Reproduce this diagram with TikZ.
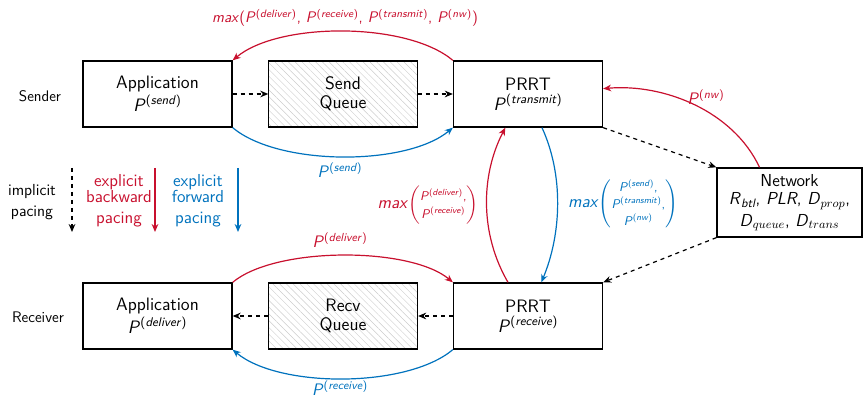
\documentclass[tikz,border=0pt]{standalone}
\usepackage{amsmath}
\usetikzlibrary{arrows.meta,patterns.meta}
\definecolor{cred}{RGB}{200,16,46}
\definecolor{cblue}{RGB}{0,114,189}
\newcommand\Pv[1]{\textit{P}\textsuperscript{(\textit{#1})}}
\newcommand\fs[2]{\fontsize{#1}{#2}\selectfont}
\begin{document}
\begin{tikzpicture}[x=0.75pt,y=0.75pt,font=\sffamily\fs{11.5}{13},
  box/.style={draw,line width=1pt,minimum width=111.75pt,minimum height=49.5pt,align=center,inner sep=1pt,font=\sffamily\fs{13.5}{13.5}},
  hbox/.style={box,pattern={Lines[angle=-45,distance=3.6pt,line width=0.35pt]},pattern color=black!20},
  dsh/.style={dashed,line width=0.9pt,-{Stealth[length=6pt,width=5pt]}},
  rarr/.style={cred,line width=0.9pt,-{Stealth[length=6pt,width=5pt]}},
  barr/.style={cblue,line width=0.9pt,-{Stealth[length=6pt,width=5pt]}},
  lbl/.style={align=center,inner sep=1pt}]
\useasboundingbox (0,0) rectangle (864,-398);
% sender row
\node[box] (sapp) at (157.5,-94) {Application\\[1.5pt]\Pv{send}};
\node[hbox] (sq) at (343,-94) {Send\\[1pt]Queue};
\node[box] (sprrt) at (528,-94) {PRRT\\[1.5pt]\Pv{transmit}};
% receiver row
\node[box] (rapp) at (157.5,-316) {Application\\[1.5pt]\Pv{deliver}};
\node[hbox] (rq) at (343,-316) {Recv\\[1pt]Queue};
\node[box] (rprrt) at (528,-316) {PRRT\\[1.5pt]\Pv{receive}};
% network
\node[box,minimum width=108.75pt,minimum height=51.75pt,font=\sffamily\fs{13}{16}] (net) at (789.5,-202.5)
  {Network\\[-2pt]\textit{R}$_{\text{\itshape btl}}$, \textit{PLR}, \textit{D}$_{prop}$,\\\textit{D}$_{queue}$, \textit{D}$_{trans}$};
% side labels
\node (lsend) at (40,-96) {Sender};
\node (lrecv) at (38,-317) {Receiver};
% dashed data flow
\draw[dsh] (sapp) -- (sq);
\draw[dsh] (sq) -- (sprrt);
\draw[dsh] (sprrt.south east) -- (net.north west);
\draw[dsh] (net.south west) -- (rprrt.north east);
\draw[dsh] (rprrt) -- (rq);
\draw[dsh] (rq) -- (rapp);
% pacing curves
\draw[rarr] (sprrt.north west) to[out=140,in=40,looseness=0.7] (sapp.north east);
\draw[barr] (sapp.south east) to[out=-40,in=-140,looseness=0.7] (sprrt.south west);
\draw[rarr] (rapp.north east) to[out=40,in=140,looseness=0.65] (rprrt.north west);
\draw[barr] (rprrt.south west) to[out=-140,in=-40,looseness=0.7] (rapp.south east);
\draw[rarr] ([xshift=-15pt]rprrt.north) .. controls +(-28,48) and +(-25,-48) .. ([xshift=-17pt]sprrt.south);
\draw[barr] ([xshift=10.5pt]sprrt.south) .. controls +(22,-48) and +(20,48) .. ([xshift=10pt]rprrt.north);
\draw[rarr] ([xshift=-22.5pt]net.north) to[out=115,in=5,looseness=0.9] ([yshift=4pt]sprrt.east);
% labels
\node[lbl,cred] (l1) at (345,-18) {\textit{max}(\Pv{deliver}, \Pv{receive}, \Pv{transmit}, \Pv{nw})};
\node[lbl,cred,font=\sffamily\fs{12.5}{14}] (l2) at (706,-97) {\Pv{nw}};
\node[lbl,cblue,font=\sffamily\fs{12.5}{14}] (l3) at (340,-170) {\Pv{send}};
\node[lbl,cred,font=\sffamily\fs{13}{14}] (l4) at (428,-205) {\textit{max}$\left(\mbox{\fs{9.5}{14}\begin{tabular}{@{}c@{}}\Pv{deliver},\\\Pv{receive}\end{tabular}}\right)$};
\node[lbl,cblue,font=\sffamily\fs{13}{14}] (l5) at (623,-205) {\textit{max}$\left(\mbox{\fs{9.5}{12.5}\begin{tabular}{@{}c@{}}\Pv{send},\\\Pv{transmit},\\\Pv{nw}\end{tabular}}\right)$};
\node[lbl,cred,font=\sffamily\fs{12.5}{14}] (l6) at (340,-240) {\Pv{deliver}};
\node[lbl,cblue,font=\sffamily\fs{12.5}{14}] (l7) at (340,-388) {\Pv{receive}};
% legend
\coordinate (k1a) at (72,-168); \coordinate (k1b) at (72,-232);
\coordinate (k2a) at (155,-168); \coordinate (k2b) at (155,-232);
\coordinate (k3a) at (238,-168); \coordinate (k3b) at (238,-232);
\draw[dsh] (k1a) -- (k1b);
\draw[rarr] (k2a) -- (k2b);
\draw[barr] (k3a) -- (k3b);
\node[lbl,font=\sffamily\fs{12}{13}] (t1) at (32,-202) {implicit\\[3pt]pacing};
\node[lbl,cred,font=\sffamily\fs{13}{12}] (t2) at (119,-201) {explicit\\backward\\[4pt]pacing};
\node[lbl,cblue,font=\sffamily\fs{13}{12}] (t3) at (198,-201) {explicit\\forward\\[4pt]pacing};
\end{tikzpicture}
\end{document}
